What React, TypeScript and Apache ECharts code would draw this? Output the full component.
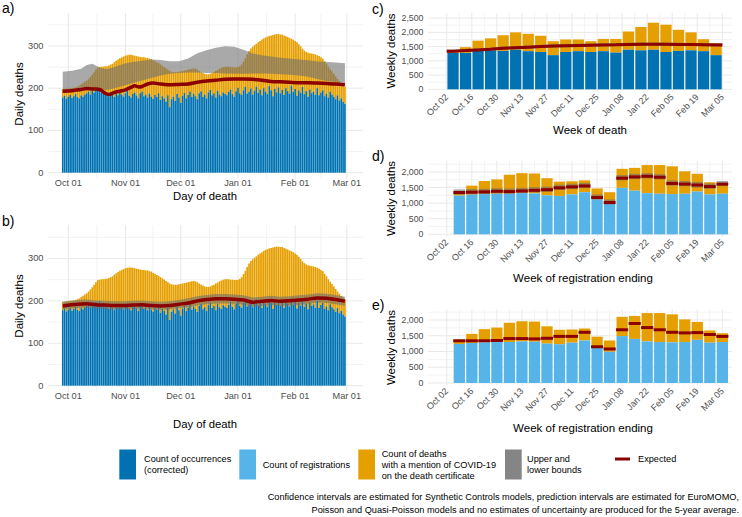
import React, { useEffect, useRef } from "react";
import * as echarts from "echarts";

const FONT = '"Liberation Sans", Arial, Helvetica, sans-serif';
const BLUE = "#0072B2";
const LIGHT_BLUE = "#56B4E9";
const ORANGE = "#E69F00";
const BAND = "rgba(112,112,112,0.6)";
const BAND_KEY = "#858585";
const RED = "#8B0000";
const TICK = "#4D4D4D";
const GRID_MAJOR = "#E9E9E9";
const GRID_MINOR = "#F3F3F3";

// ---------- Daily panels (a, b): day 0 = Oct 01, first bar = Sep 28 (day -3) ----------
const firstDailyDay = -3;
const dailyOccurrences = [
  178, 182, 175, 180, 184, 177, 181, 186, 179, 176, 183, 180, 185,
  188, 192, 185, 195, 190, 198, 194, 200, 189, 196, 192,
  186, 181, 190, 184, 179, 187, 183, 191, 185, 180, 188, 194, 182,
  178, 186, 190, 183, 176, 188, 192, 181, 185, 178, 187, 180,
  175, 184, 179, 188, 172, 181, 176, 168, 183, 155, 174, 180,
  170, 186, 178, 165, 182, 189, 176, 184, 192, 179, 187, 181, 174,
  188, 193, 180, 185, 176, 190, 196, 183, 188, 178, 194, 185, 181, 190, 187,
  183, 191, 197, 186, 180, 193, 201, 188, 184, 195, 203, 187, 192, 199, 185,
  194, 204, 189, 197, 183, 200, 192, 186, 205, 195, 181, 198, 190, 202, 188,
  196, 184, 200, 193, 187, 206, 191, 198, 182, 195, 189, 203, 186, 193, 180,
  197, 188, 192, 184, 200, 183, 190, 195, 181, 187, 178, 192, 185, 180, 174,
  183, 171, 176, 168, 163,
];
const dailyCovidTotal = [
  198, 198, 199, 199, 200, 200, 201, 202, 204, 206,
  209, 212, 215, 218, 222, 227, 232, 238, 244, 249,
  250, 251, 251, 252, 252, 254, 256, 258, 262, 265,
  268, 271, 273, 275, 277, 278, 279, 279, 278, 277,
  276, 275, 274, 273, 273, 272, 272, 270, 269, 266,
  264, 261, 259, 256, 253, 250, 247, 244, 241, 239,
  238, 238, 238, 239, 240, 241, 242, 243, 244, 245,
  246, 247, 246, 244, 241, 238, 236, 234, 233, 233,
  234, 236, 238, 241, 243, 246, 248, 250, 251, 251,
  251, 250, 250, 249, 249, 250, 252, 256, 263, 271,
  280, 288, 294, 298, 302, 305, 309, 312, 315, 318,
  320, 322, 324, 325, 326, 327, 328, 328, 327, 327,
  325, 323, 321, 319, 317, 315, 312, 309, 304, 299,
  293, 289, 286, 284, 283, 282, 281, 280, 278, 276,
  273, 270, 264, 258, 251, 245, 240, 234, 228, 222,
  217, 212, 208, 204,
];

const aBandDays = [-3, 2, 7, 10, 13, 17, 21, 25, 30, 35, 40, 45, 50, 55, 60, 65, 70, 75, 80, 85, 90, 95, 100, 105, 110, 115, 120, 125, 130, 135, 140, 145, 150];
const aUpper = [239, 241, 246, 255, 258, 249, 245, 250, 258, 262, 265, 268, 267, 264, 264, 270, 283, 290, 296, 299, 298, 291, 282, 278, 275, 272, 270, 268, 266, 263, 262, 261, 259];
const aLower = [192, 193, 195, 197, 198, 197, 196, 200, 206, 212, 218, 224, 230, 234, 236, 237, 237, 236, 236, 235, 234, 234, 235, 235, 234, 233, 232, 230, 227, 222, 217, 214, 212];
const aExpDays = [-3, 2, 7, 10, 14, 17, 20, 22, 25, 28, 31, 34, 36, 38, 40, 43, 46, 50, 55, 60, 65, 70, 75, 80, 85, 90, 95, 100, 105, 110, 115, 120, 125, 130, 135, 140, 145, 150];
const aExpected = [193, 194, 197, 199, 198, 197, 188, 185, 190, 193, 196, 202, 206, 203, 204, 210, 212, 210, 208, 209, 210, 214, 217, 219, 221, 222, 222, 221, 219, 216, 215, 214, 213, 213, 212, 211, 210, 208];

const bDays = [-3, 5, 10, 15, 20, 25, 30, 35, 40, 45, 50, 55, 60, 65, 70, 75, 80, 85, 90, 95, 100, 105, 110, 115, 120, 125, 130, 135, 140, 145, 150];
const bExpected = [188, 192, 193, 191, 190, 189, 189, 190, 191, 189, 188, 189, 192, 195, 200, 203, 205, 205, 204, 202, 197, 199, 201, 199, 200, 202, 204, 207, 206, 203, 199];
const bUpper = [198, 202, 203, 201, 200, 199, 199, 200, 201, 199, 198, 199, 202, 206, 211, 214, 216, 216, 215, 213, 208, 210, 212, 210, 211, 213, 215, 218, 217, 214, 210];
const bLower = [180, 183, 184, 182, 181, 180, 180, 181, 182, 180, 179, 180, 183, 185, 189, 192, 194, 194, 193, 191, 186, 188, 190, 188, 189, 191, 193, 196, 195, 192, 188];

const monthTickDays = [0, 31, 61, 92, 123, 151];
const monthTickLabels = ["Oct 01", "Nov 01", "Dec 01", "Jan 01", "Feb 01", "Mar 01"];
const monthMinorDays = [15.5, 46, 76.5, 107.5, 137];
const dailyYTicks = [0, 100, 200, 300];
const dailyYMinor = [50, 150, 250, 350];

// ---------- Weekly panels (c, d, e): day 0 = Oct 02 ----------
const weekTickDays = [0, 14, 28, 42, 56, 70, 84, 98, 112, 126, 140, 154];
const weekTickLabels = ["Oct 02", "Oct 16", "Oct 30", "Nov 13", "Nov 27", "Dec 11", "Dec 25", "Jan 08", "Jan 22", "Feb 05", "Feb 19", "Mar 05"];
const weekMinorDays = [7, 21, 35, 49, 63, 77, 91, 105, 119, 133, 147];

const deathWeekDays = [3.5, 10.5, 17.5, 24.5, 31.5, 38.5, 45.5, 52.5, 59.5, 66.5, 73.5, 80.5, 87.5, 94.5, 101.5, 108.5, 115.5, 122.5, 129.5, 136.5, 143.5, 150.5];
const cOccurrences = [1280, 1280, 1350, 1370, 1350, 1390, 1340, 1310, 1200, 1310, 1340, 1310, 1340, 1290, 1390, 1370, 1390, 1310, 1350, 1370, 1340, 1200];
const cCovidTotal = [1330, 1480, 1710, 1790, 1900, 2000, 1950, 1880, 1690, 1750, 1750, 1690, 1770, 1770, 2030, 2190, 2340, 2270, 2090, 2000, 1760, 1620];
const cExpected = [1340, 1360, 1385, 1410, 1440, 1460, 1480, 1500, 1520, 1530, 1540, 1550, 1560, 1565, 1575, 1580, 1580, 1580, 1575, 1570, 1565, 1560];
const cUpper = [1400, 1420, 1445, 1470, 1500, 1520, 1540, 1560, 1580, 1590, 1600, 1610, 1620, 1625, 1635, 1640, 1640, 1640, 1635, 1630, 1625, 1620];
const cLower = [1290, 1310, 1335, 1360, 1390, 1410, 1430, 1450, 1470, 1480, 1490, 1500, 1510, 1515, 1525, 1530, 1530, 1530, 1525, 1520, 1515, 1510];
const cLineStart = 0;
const cLineEnd = 154;

const regWeekDays = [7, 14, 21, 28, 35, 42, 49, 56, 63, 70, 77, 84, 91, 98, 105, 112, 119, 126, 133, 140, 147, 154];
const registrations = [1240, 1270, 1290, 1300, 1300, 1320, 1310, 1250, 1230, 1280, 1350, 1120, 990, 1490, 1400, 1320, 1300, 1290, 1300, 1370, 1280, 1300];
const regCovidTotal = [1380, 1560, 1710, 1760, 1910, 1960, 1950, 1800, 1690, 1700, 1730, 1470, 1350, 2100, 2130, 2220, 2220, 2180, 2020, 1940, 1670, 1580];
const dExpected = [1340, 1350, 1360, 1380, 1370, 1390, 1410, 1430, 1490, 1520, 1550, 1180, 1020, 1800, 1840, 1860, 1830, 1630, 1610, 1580, 1530, 1610];
const dUpper = [1440, 1450, 1460, 1480, 1470, 1490, 1510, 1530, 1590, 1620, 1650, 1280, 1120, 1900, 1940, 1960, 1930, 1730, 1710, 1680, 1630, 1710];
const dLower = [1270, 1280, 1290, 1310, 1300, 1320, 1340, 1360, 1420, 1450, 1480, 1110, 950, 1730, 1770, 1790, 1760, 1560, 1540, 1500, 1460, 1540];
const eExpected = [1340, 1340, 1340, 1350, 1410, 1410, 1400, 1420, 1480, 1480, 1610, 1150, 1080, 1690, 1890, 1760, 1690, 1610, 1590, 1600, 1540, 1480];

const cYTicks = [0, 500, 1000, 1500, 2000, 2500];
const cYMinor = [250, 750, 1250, 1750, 2250];
const dYTicks = [0, 500, 1000, 1500, 2000];
const dYMinor = [250, 750, 1250, 1750, 2250];

const legendItems = [
  { color: BLUE, label: "Count of occurrences\n(corrected)" },
  { color: LIGHT_BLUE, label: "Count of registrations" },
  { color: ORANGE, label: "Count of deaths\nwith a mention of COVID-19\non the death certificate" },
  { color: BAND_KEY, label: "Upper and\nlower bounds" },
];

const captionLines = [
  "Confidence intervals are estimated for Synthetic Controls models, prediction intervals are estimated for EuroMOMO,",
  "Poisson and Quasi-Poisson models and no estimates of uncertainty are produced for the 5-year average.",
];

// ---------- helpers ----------
const labelFor = (ticks: number[], labels: string[]) => (v: number) => {
  const i = ticks.findIndex((t) => Math.abs(t - v) < 1e-6);
  return i >= 0 ? labels[i] : "";
};
const comma = (v: number) => String(v).replace(/\B(?=(\d{3})+(?!\d))/g, ",");

function gridLineSeries(gi: number, xMaj: number[], xMin: number[], yMaj: number[], yMin: number[]) {
  const data: number[][] = [];
  xMin.forEach((v) => data.push([v, 0, 1]));
  yMin.forEach((v) => data.push([0, v, 3]));
  xMaj.forEach((v) => data.push([v, 0, 0]));
  yMaj.forEach((v) => data.push([0, v, 2]));
  return {
    type: "custom",
    xAxisIndex: gi,
    yAxisIndex: gi,
    z: 0,
    silent: true,
    clip: false,
    encode: { x: 0, y: 1 },
    data,
    renderItem: (params: any, api: any) => {
      const kind = api.value(2);
      const cs = params.coordSys;
      const stroke = kind === 0 || kind === 2 ? GRID_MAJOR : GRID_MINOR;
      if (kind < 2) {
        const x = api.coord([api.value(0), 0])[0];
        return { type: "line", shape: { x1: x, y1: cs.y, x2: x, y2: cs.y + cs.height }, style: { stroke, lineWidth: 1 } };
      }
      const y = api.coord([0, api.value(1)])[1];
      return { type: "line", shape: { x1: cs.x, y1: y, x2: cs.x + cs.width, y2: y }, style: { stroke, lineWidth: 1 } };
    },
  };
}

// Stacked bar drawn as two rects: base colour from 0 to base value, orange from base to total.
function stackedBarSeries(gi: number, xs: number[], base: number[], total: number[], baseColor: string, half: number) {
  return {
    type: "custom",
    xAxisIndex: gi,
    yAxisIndex: gi,
    z: 1,
    silent: true,
    encode: { x: 0, y: [1, 2] },
    data: xs.map((x, i) => [x, base[i], total[i]]),
    renderItem: (params: any, api: any) => {
      const x = api.value(0);
      const b = api.value(1);
      const t = api.value(2);
      const p0 = api.coord([x - half, 0]);
      const pb = api.coord([x + half, b]);
      const pt = api.coord([x - half, t]);
      const w = pb[0] - p0[0];
      const children: any[] = [];
      if (t > b) {
        children.push({ type: "rect", shape: { x: p0[0], y: pt[1], width: w, height: pb[1] - pt[1] }, style: { fill: ORANGE } });
      }
      children.push({ type: "rect", shape: { x: p0[0], y: pb[1], width: w, height: p0[1] - pb[1] }, style: { fill: baseColor } });
      return { type: "group", children };
    },
  };
}

function bandSeries(gi: number, xs: number[], lo: number[], hi: number[]) {
  return {
    type: "custom",
    xAxisIndex: gi,
    yAxisIndex: gi,
    z: 3,
    silent: true,
    encode: { x: 0, y: [1, 2] },
    data: xs.map((x, i) => [x, lo[i], hi[i]]),
    renderItem: (params: any, api: any) => {
      if (params.dataIndex !== 0) return null;
      const top = xs.map((x, i) => api.coord([x, hi[i]]));
      const bottom = xs.map((x, i) => api.coord([x, lo[i]])).reverse();
      return { type: "polygon", shape: { points: top.concat(bottom) }, style: { fill: BAND } };
    },
  };
}

function boxSeries(gi: number, xs: number[], lo: number[], hi: number[], half: number) {
  return {
    type: "custom",
    xAxisIndex: gi,
    yAxisIndex: gi,
    z: 3,
    silent: true,
    encode: { x: 0, y: [1, 2] },
    data: xs.map((x, i) => [x, lo[i], hi[i]]),
    renderItem: (params: any, api: any) => {
      const p1 = api.coord([api.value(0) - half, api.value(2)]);
      const p2 = api.coord([api.value(0) + half, api.value(1)]);
      return { type: "rect", shape: { x: p1[0], y: p1[1], width: p2[0] - p1[0], height: p2[1] - p1[1] }, style: { fill: BAND } };
    },
  };
}

function crossbarSeries(gi: number, xs: number[], vals: number[], half: number) {
  return {
    type: "custom",
    xAxisIndex: gi,
    yAxisIndex: gi,
    z: 4,
    silent: true,
    encode: { x: 0, y: 1 },
    data: xs.map((x, i) => [x, vals[i]]),
    renderItem: (params: any, api: any) => {
      const p1 = api.coord([api.value(0) - half, api.value(1)]);
      const p2 = api.coord([api.value(0) + half, api.value(1)]);
      return { type: "line", shape: { x1: p1[0], y1: p1[1], x2: p2[0], y2: p2[1] }, style: { stroke: RED, lineWidth: 3, lineCap: "butt" } };
    },
  };
}

function lineSeries(gi: number, xs: number[], vals: number[], smooth: number, width: number) {
  return {
    type: "line",
    xAxisIndex: gi,
    yAxisIndex: gi,
    z: 4,
    silent: true,
    symbol: "none",
    smooth,
    lineStyle: { color: RED, width },
    data: xs.map((x, i) => [x, vals[i]]),
  };
}

const tickLabel = { color: TICK, fontFamily: FONT, fontSize: 9.3 };

function dailyX(gi: number) {
  return {
    type: "value", gridIndex: gi, min: -11, max: 159.8,
    axisLine: { show: false }, axisTick: { show: false, customValues: monthTickDays }, splitLine: { show: false },
    axisLabel: { ...tickLabel, fontSize: 9.2, margin: -1, customValues: monthTickDays, formatter: labelFor(monthTickDays, monthTickLabels) },
  };
}
function weeklyX(gi: number) {
  return {
    type: "value", gridIndex: gi, min: -10.5, max: 159.4,
    axisLine: { show: false }, axisTick: { show: false, customValues: weekTickDays }, splitLine: { show: false },
    axisLabel: { ...tickLabel, fontSize: 9, margin: 4, rotate: 45, customValues: weekTickDays, formatter: labelFor(weekTickDays, weekTickLabels) },
  };
}
function yAxis(gi: number, min: number, max: number, ticks: number[], fontSize: number) {
  return {
    type: "value", gridIndex: gi, min, max,
    axisLine: { show: false }, axisTick: { show: false, customValues: ticks }, splitLine: { show: false },
    axisLabel: { ...tickLabel, fontSize, margin: 4.5, customValues: ticks, formatter: (v: number) => comma(v) },
  };
}

function text(x: number, y: number, t: string, size: number, opts: any = {}) {
  return {
    type: "text", x, y, rotation: opts.rotation || 0, silent: true,
    style: {
      text: t, fill: opts.fill || "#000", font: `${size}px ${FONT}`,
      textAlign: opts.align || "center", textVerticalAlign: "middle", lineHeight: opts.lineHeight || size * 1.2,
    },
  };
}

function buildOption() {
  const dailyDays = dailyOccurrences.map((_, i) => firstDailyDay + i);
  const cLineX = [cLineStart, ...deathWeekDays, cLineEnd];
  const cLineY = [cExpected[0], ...cExpected, cExpected[cExpected.length - 1]];
  const cLo = [cLower[0], ...cLower, cLower[cLower.length - 1]];
  const cHi = [cUpper[0], ...cUpper, cUpper[cUpper.length - 1]];

  const graphics: any[] = [
    text(2, 8, "a)", 14, { align: "left" }),
    text(2, 221, "b)", 14, { align: "left" }),
    text(372, 9, "c)", 14, { align: "left" }),
    text(372, 156, "d)", 14, { align: "left" }),
    text(372, 305, "e)", 14, { align: "left" }),
    text(205, 196, "Day of death", 11.3),
    text(205, 424, "Day of death", 11.3),
    text(18.5, 94, "Daily deaths", 11.5, { rotation: Math.PI / 2 }),
    text(18.5, 306, "Daily deaths", 11.5, { rotation: Math.PI / 2 }),
    text(590, 129.5, "Week of death", 11.5),
    text(583, 278, "Week of registration ending", 11.5),
    text(583, 428, "Week of registration ending", 11.5),
    text(390.5, 51, "Weekly deaths", 11.5, { rotation: Math.PI / 2 }),
    text(390.5, 198.5, "Weekly deaths", 11.5, { rotation: Math.PI / 2 }),
    text(390.5, 347.5, "Weekly deaths", 11.5, { rotation: Math.PI / 2 }),
  ];
  const keyX = [119.3, 239.3, 358.3, 505];
  const labelX = [144, 262.7, 381.7, 527];
  legendItems.forEach((it, i) => {
    graphics.push({ type: "rect", silent: true, shape: { x: keyX[i], y: 449.5, width: 16.7, height: 30 }, style: { fill: it.color } });
    graphics.push(text(labelX[i], 464.5, it.label, 9.2, { align: "left", lineHeight: 11 }));
  });
  graphics.push({ type: "line", silent: true, shape: { x1: 615, y1: 459, x2: 630, y2: 459 }, style: { stroke: RED, lineWidth: 3 } });
  graphics.push(text(638, 459, "Expected", 9.2, { align: "left" }));
  graphics.push(text(739, 497, captionLines[0], 9.2, { align: "right" }));
  graphics.push(text(739, 509.5, captionLines[1], 9.2, { align: "right" }));

  return {
    animation: false,
    backgroundColor: "#fff",
    textStyle: { fontFamily: FONT },
    grid: [
      { left: 48, top: 13, width: 315, height: 166 },
      { left: 48, top: 225, width: 315, height: 167 },
      { left: 428, top: 13, width: 304, height: 78.6 },
      { left: 428, top: 160.7, width: 304, height: 76.1 },
      { left: 428, top: 309.3, width: 304, height: 76.2 },
    ],
    xAxis: [dailyX(0), dailyX(1), weeklyX(2), weeklyX(3), weeklyX(4)],
    yAxis: [
      yAxis(0, -15, 378, dailyYTicks, 9.3),
      yAxis(1, -15, 379, dailyYTicks, 9.3),
      yAxis(2, -80, 2680, cYTicks, 8.8),
      yAxis(3, -80, 2360, dYTicks, 8.8),
      yAxis(4, -80, 2340, dYTicks, 8.8),
    ],
    series: [
      gridLineSeries(0, monthTickDays, monthMinorDays, dailyYTicks, dailyYMinor),
      gridLineSeries(1, monthTickDays, monthMinorDays, dailyYTicks, dailyYMinor),
      gridLineSeries(2, weekTickDays, weekMinorDays, cYTicks, cYMinor),
      gridLineSeries(3, weekTickDays, weekMinorDays, dYTicks, dYMinor),
      gridLineSeries(4, weekTickDays, weekMinorDays, dYTicks, dYMinor),
      // a
      stackedBarSeries(0, dailyDays, dailyOccurrences, dailyCovidTotal, BLUE, 0.45),
      bandSeries(0, aBandDays, aLower, aUpper),
      lineSeries(0, aExpDays, aExpected, 0.3, 3.5),
      // b
      stackedBarSeries(1, dailyDays, dailyOccurrences, dailyCovidTotal, BLUE, 0.45),
      bandSeries(1, bDays, bLower, bUpper),
      lineSeries(1, bDays, bExpected, 0.3, 3.5),
      // c
      stackedBarSeries(2, deathWeekDays, cOccurrences, cCovidTotal, BLUE, 3.15),
      bandSeries(2, cLineX, cLo, cHi),
      lineSeries(2, cLineX, cLineY, 0, 3),
      // d
      stackedBarSeries(3, regWeekDays, registrations, regCovidTotal, LIGHT_BLUE, 3.15),
      boxSeries(3, regWeekDays, dLower, dUpper, 3.15),
      crossbarSeries(3, regWeekDays, dExpected, 3.3),
      // e
      stackedBarSeries(4, regWeekDays, registrations, regCovidTotal, LIGHT_BLUE, 3.15),
      crossbarSeries(4, regWeekDays, eExpected, 3.4),
    ],
    graphic: graphics,
  };
}

export default function App() {
  const ref = useRef<HTMLDivElement>(null);
  useEffect(() => {
    const chart = echarts.init(ref.current as HTMLDivElement, null, { renderer: "svg" });
    chart.setOption(buildOption() as any);
    return () => chart.dispose();
  }, []);
  return (
    <div
      ref={ref}
      style={{ position: "fixed", left: 0, top: 0, width: 742, height: 517, background: "#fff" }}
    />
  );
}
